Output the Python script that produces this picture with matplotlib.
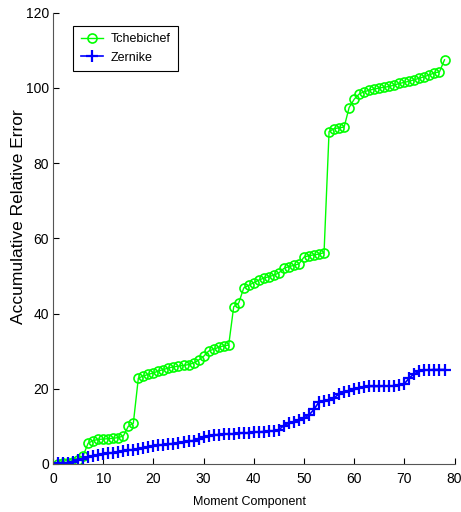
import numpy as np
import matplotlib
matplotlib.use("Agg")
import matplotlib.pyplot as plt

plt.rcParams['font.family'] = ['Liberation Sans', 'DejaVu Sans']

# moment component index
components = np.arange(1, 79)

tchebichef = [0.0, 0.1, 0.3, 0.6, 1.0, 2.2, 5.5, 6.2, 6.5, 6.6,
              6.7, 6.8, 7.0, 7.4, 10.0, 10.8, 22.8, 23.4, 23.8, 24.2,
              24.7, 25.1, 25.5, 25.8, 26.0, 26.2, 26.4, 26.8, 27.6, 28.6,
              30.0, 30.5, 31.0, 31.4, 31.6, 41.8, 42.8, 46.8, 47.5, 48.2,
              48.9, 49.4, 49.8, 50.2, 50.8, 52.0, 52.5, 52.8, 53.2, 55.0,
              55.4, 55.6, 55.8, 56.2, 88.4, 89.2, 89.4, 89.6, 94.8, 97.0,
              98.4, 99.0, 99.4, 99.7, 100.0, 100.2, 100.4, 100.8, 101.2, 101.5,
              101.8, 102.2, 102.6, 103.0, 103.5, 104.0, 104.3, 107.5]

zernike = [0.2, 0.2, 0.3, 0.5, 0.9, 1.3, 1.7, 2.0, 2.3, 2.5,
           2.8, 3.0, 3.2, 3.4, 3.6, 3.8, 4.0, 4.3, 4.5, 4.7,
           4.9, 5.1, 5.3, 5.4, 5.6, 5.8, 6.0, 6.2, 6.5, 7.2,
           7.5, 7.7, 7.8, 7.9, 8.0, 8.0, 8.1, 8.2, 8.3, 8.4,
           8.5, 8.6, 8.7, 8.8, 9.1, 10.2, 10.8, 11.2, 11.6, 12.2,
           13.0, 14.5, 16.5, 16.8, 17.0, 17.6, 18.6, 19.1, 19.5, 19.8,
           20.1, 20.5, 20.6, 20.6, 20.6, 20.7, 20.7, 20.8, 20.9, 21.3,
           22.9, 24.0, 24.6, 24.9, 25.0, 25.1, 25.1, 25.1]

fig = plt.figure(figsize=(4.61, 5.12), dpi=100)
ax = fig.add_axes([0.115, 0.094, 0.871, 0.881])

ax.plot(components, tchebichef, color='#00ff00', lw=1, marker='o', ms=6.5,
        mfc='none', mec='#00ff00', mew=1.2, label='Tchebichef')
ax.plot(components, zernike, color='#0000ff', lw=1.2, marker='+', ms=8,
        mew=1.6, label='Zernike')

ax.set_xlim(0, 80)
ax.set_ylim(0, 120)
ax.set_xticks(range(0, 81, 10))
ax.set_yticks(range(0, 121, 20))
ax.tick_params(direction='in', length=4, labelsize=10, colors='black')
ax.tick_params(axis='x', pad=6)
ax.tick_params(axis='y', pad=3)
ax.spines['top'].set_visible(False)
ax.spines['right'].set_visible(False)
for s in ('left', 'bottom'):
    ax.spines[s].set_color('#555555')

ax.set_xlabel('Moment Component', fontsize=9)
ax.xaxis.set_label_coords(0.49, -0.072)
ax.set_ylabel('Accumulative Relative Error', fontsize=12.5, va='center')
ax.yaxis.set_label_coords(-0.087, 0.548)

leg = ax.legend(loc='upper left', bbox_to_anchor=(0.035, 0.985), fontsize=9,
                fancybox=False, edgecolor='black', framealpha=1,
                handlelength=1.8, handletextpad=0.6, borderpad=0.6,
                labelspacing=0.5)
leg.get_frame().set_linewidth(0.8)

fig.savefig('out.png', dpi=100)
